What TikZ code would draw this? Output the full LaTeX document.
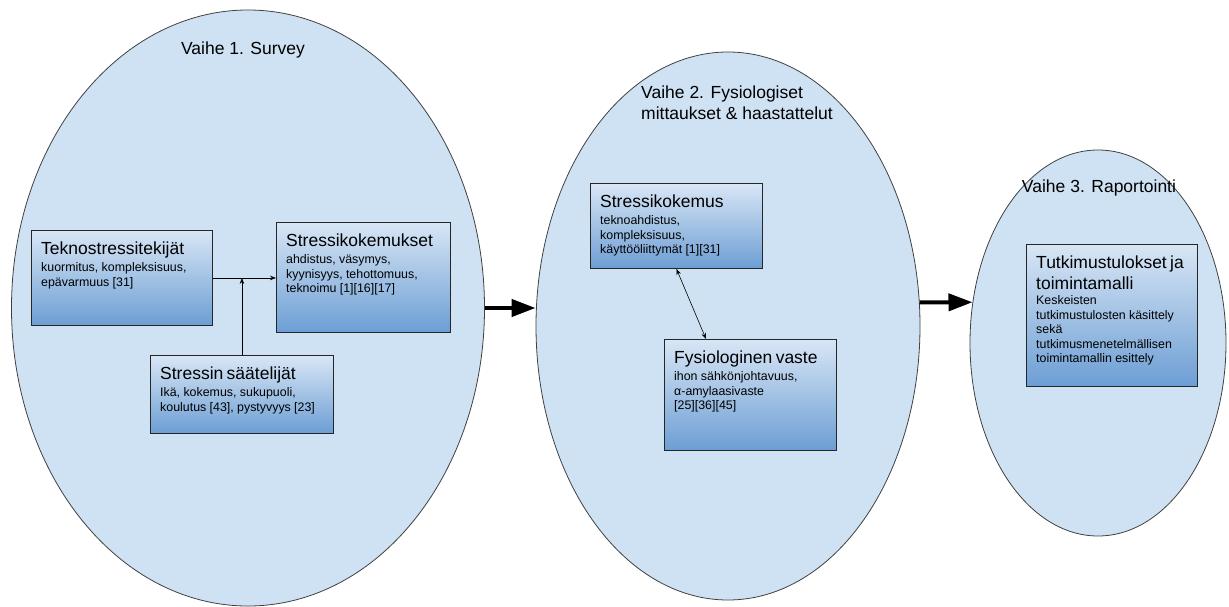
\documentclass[tikz,border=0pt]{standalone}
\usepackage{fontspec}
\setmainfont{Liberation Sans}
\usetikzlibrary{arrows.meta, shapes.geometric, positioning}
\definecolor{phasefill}{RGB}{207,226,243}
\definecolor{boxtop}{RGB}{216,230,245}
\definecolor{boxbottom}{RGB}{108,158,212}
\newcommand{\titlefont}{\fontsize{17.5}{21}\selectfont}
\newcommand{\bodyfont}{\fontsize{12.4}{14.6}\selectfont}
\tikzset{
    ellipsenode/.style = {draw=black!75, ellipse, fill=phasefill, line width=0.8pt, inner sep=0em},
    boxnode/.style = {draw=black!85, rectangle, line width=0.9pt, top color=boxtop, bottom color=boxbottom,
      anchor=north west, inner sep=0em},
    textnode/.style = {draw=none, fill=none, rectangle, inner sep=0em, align=left},
    boxtextnode/.style = {textnode, anchor=north west, inner xsep=10pt, inner ysep=12pt, text width=160pt},
    connect/.style = {black, line width=0.6pt, -{Stealth[length=6pt,width=4.5pt]}},
    twoway/.style = {black, line width=0.6pt, {Stealth[length=6pt,width=4.5pt]}-{Stealth[length=6pt,width=4.5pt]}},
    bigarrow/.style = {black, line width=4pt, -{Triangle[length=24pt,width=17pt]}}
}

\begin{document}
\begin{tikzpicture}[x=1pt, y=-1pt]
    \useasboundingbox (0,0) rectangle (1229,607);

    % phases
    \node [name = vaihe1, ellipsenode, minimum width=473pt, minimum height=596pt] at (248,308) {};
    \node [name = vaihe2, ellipsenode, minimum width=384pt, minimum height=548pt] at (728,326) {};
    \node [name = vaihe3, ellipsenode, minimum width=256pt, minimum height=386pt] at (1098,343) {};

    \node [name = title1, textnode, anchor=base, font=\titlefont] at (243,55) {Vaihe 1. Survey};
    \node [name = title2, textnode, anchor=north west, font=\titlefont] at (641,86)
        {Vaihe 2. Fysiologiset\\ mittaukset \& haastattelut};
    \node [name = title3, textnode, anchor=base, font=\titlefont] at (1099,193) {Vaihe 3. Raportointi};

    % boxes
    \node [name = tekno, boxnode, minimum width=181pt, minimum height=95pt] at (31,230) {};
    \node [name = teknoText, boxtextnode] at (tekno.north west)
        {{\titlefont Teknostressitekijät\par}\vspace{2pt}{\bodyfont kuormitus, kompleksisuus,\\ epävarmuus [31]\par}};

    \node [name = kokemukset, boxnode, minimum width=174pt, minimum height=110pt] at (276,222) {};
    \node [name = kokemuksetText, boxtextnode] at (kokemukset.north west)
        {{\titlefont Stressikokemukset\par}\vspace{2pt}{\bodyfont ahdistus, väsymys,\\ kyynisyys, tehottomuus,\\ teknoimu [1][16][17]\par}};

    \node [name = saate, boxnode, minimum width=183pt, minimum height=78pt] at (150,355) {};
    \node [name = saateText, boxtextnode] at (saate.north west)
        {{\titlefont Stressin säätelijät\par}\vspace{2pt}{\bodyfont Ikä, kokemus, sukupuoli,\\ koulutus [43], pystyvyys [23]\par}};

    \node [name = kokemus, boxnode, minimum width=172pt, minimum height=85pt] at (590,183) {};
    \node [name = kokemusText, boxtextnode] at (kokemus.north west)
        {{\titlefont Stressikokemus\par}\vspace{2pt}{\bodyfont teknoahdistus,\\ kompleksisuus,\\ käyttööliittymät [1][31]\par}};

    \node [name = fysio, boxnode, minimum width=172pt, minimum height=111pt] at (664,339) {};
    \node [name = fysioText, boxtextnode] at (fysio.north west)
        {{\titlefont Fysiologinen vaste\par}\vspace{2pt}{\bodyfont ihon sähkönjohtavuus,\\ α-amylaasivaste\\{}[25][36][45]\par}};

    \node [name = tulos, boxnode, minimum width=171pt, minimum height=142pt] at (1026,244) {};
    \node [name = tulosText, boxtextnode] at (tulos.north west)
        {{\titlefont Tutkimustulokset ja\\ toimintamalli\par}{\bodyfont Keskeisten\\ tutkimustulosten käsittely\\ sekä\\
         tutkimusmenetelmällisen\\ toimintamallin esittely\par}};

    % connectors
    \draw (tekno.east) edge[connect] (tekno.east -| kokemukset.west);
    \draw (saate.north) edge[connect] (saate.north |- tekno.east);
    \draw (kokemus.south) edge[twoway] ([xshift=42pt]fysio.north west);
    \draw (vaihe1.east) edge[bigarrow] (vaihe1.east -| vaihe2.west);
    \draw (vaihe2.7) edge[bigarrow] (vaihe3.162);
\end{tikzpicture}
\end{document}
